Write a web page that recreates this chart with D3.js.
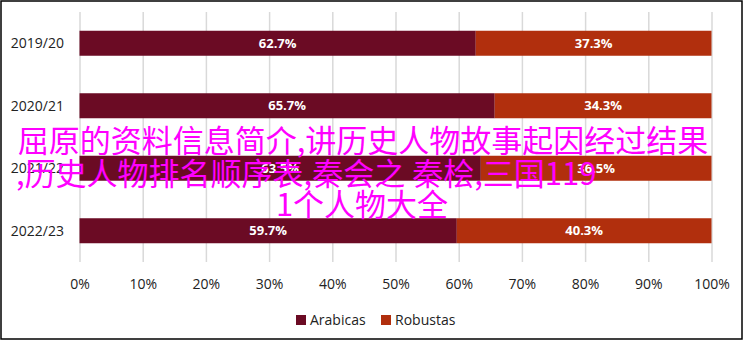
<!DOCTYPE html>
<html>
<head>
<meta charset="utf-8">
<script src="https://cdn.jsdelivr.net/npm/d3@7/dist/d3.min.js"></script>
<style>
	body { margin: 0; background: #fff; }
	text { font-family: 'Open Sans', sans-serif; }
</style>
</head>
<body>
<div id="chart"></div>
<script>
const seasons = ['2019/20', '2020/21', '2021/22', '2022/23']
const arabicas = [62.7, 65.7, 63.5, 59.7]
const robustas = [37.3, 34.3, 36.5, 40.3]
const seriesNames = ['Arabicas', 'Robustas']
const ticks = [0, 10, 20, 30, 40, 50, 60, 70, 80, 90, 100]
const overlayLines = ['屈原的资料信息简介,讲历史人物故事起因经过结果', ',历史人物排名顺序表,秦会之 秦桧,三国119', '1个人物大全']

const width = 744
const height = 341
const colors = { Arabicas: '#6b0b24', Robustas: '#b12f0d' }

const svg = d3.select('#chart').append('svg').attr('width', width).attr('height', height)

// frame
svg.append('rect').attr('x', 1).attr('y', 1).attr('width', 741).attr('height', 338)
	.attr('fill', '#fff').attr('stroke', '#000').attr('stroke-width', 1.5)

const x = d3.scaleLinear().domain([0, 100]).range([79.5, 711.5])
const y = d3.scaleBand().domain(seasons).range([12, 262]).paddingInner(0.6).paddingOuter(0.3)

// grid + tick labels
const axis = d3.axisBottom(x).tickValues(ticks).tickFormat((d) => d + '%').tickSize(-250).tickPadding(17)
const ax = svg.append('g').attr('transform', 'translate(0,262)').call(axis)
ax.select('.domain').remove()
ax.selectAll('line').attr('stroke', '#d9d9d9').attr('stroke-width', 1.5)
ax.selectAll('text').attr('font-size', 14).attr('fill', '#222').attr('font-family', "'Open Sans', sans-serif")

// category labels
svg.append('g').selectAll('text').data(seasons).enter().append('text')
	.attr('x', 64)
	.attr('y', (d) => y(d) + y.bandwidth() / 2)
	.attr('dy', '0.35em')
	.attr('text-anchor', 'end')
	.attr('font-size', 14)
	.attr('fill', '#222')
	.text((d) => d)

// stacked bars
const rows = seasons.map((s, i) => ({ season: s, Arabicas: arabicas[i], Robustas: robustas[i] }))
const stack = d3.stack().keys(seriesNames)(rows)

stack.forEach(function (layer) {
	const g = svg.append('g')
	g.selectAll('rect').data(layer).enter().append('rect')
		.attr('x', (d) => x(d[0]))
		.attr('y', (d) => y(d.data.season))
		.attr('width', (d) => x(d[1]) - x(d[0]))
		.attr('height', y.bandwidth())
		.attr('fill', colors[layer.key])
	g.selectAll('text').data(layer).enter().append('text')
		.attr('x', (d) => (x(d[0]) + x(d[1])) / 2)
		.attr('y', (d) => y(d.data.season) + y.bandwidth() / 2)
		.attr('dy', '0.36em')
		.attr('text-anchor', 'middle')
		.attr('font-size', 13)
		.attr('font-weight', 'bold')
		.attr('fill', '#fff')
		.text((d) => d.data[layer.key].toFixed(1) + '%')
})

// legend
const legend = svg.append('g')
const legendX = [296, 381]
seriesNames.forEach(function (name, i) {
	legend.append('rect').attr('x', legendX[i]).attr('y', 315).attr('width', 10).attr('height', 10).attr('fill', colors[name])
	legend.append('text').attr('x', legendX[i] + 14).attr('y', 325).attr('font-size', 14).attr('fill', '#222').text(name)
})

// overlay text
const overlay = svg.append('g').attr('font-family', "'Noto Sans CJK SC', sans-serif").attr('font-size', 31).attr('fill', '#ff00ff')
overlay.append('text').attr('x', 363).attr('y', 152).attr('text-anchor', 'middle').style('font-family', "'Noto Sans CJK SC', sans-serif").text(overlayLines[0])
overlay.append('text').attr('x', 16).attr('y', 185).style('font-family', "'Noto Sans CJK SC', sans-serif").text(overlayLines[1])
overlay.append('text').attr('x', 362).attr('y', 216).attr('text-anchor', 'middle').style('font-family', "'Noto Sans CJK SC', sans-serif").text(overlayLines[2])
</script>
</body>
</html>
